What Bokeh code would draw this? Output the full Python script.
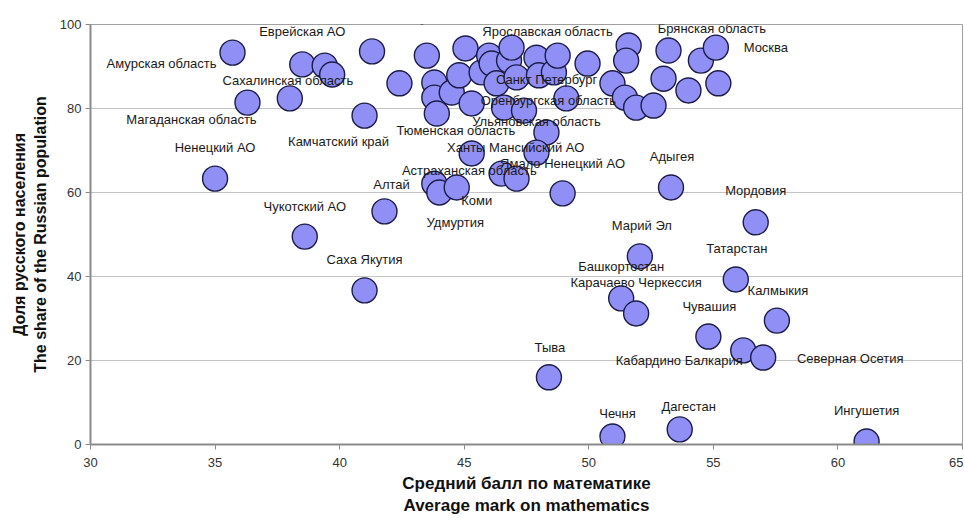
from bokeh.plotting import figure
from bokeh.models import ColumnDataSource, Range1d, FixedTicker
from bokeh.core.properties import value
from bokeh.embed import file_html
from bokeh.resources import INLINE

# ---- data ----
regions = [
    "Ненецкий АО", "Амурская область", "Магаданская область", "Сахалинская область",
    "Еврейская АО", "Чукотский АО", "", "", "", "Камчатский край", "Саха Якутия", "Алтай",
    "", "", "", "", "Тюменская область", "", "", "Тульская область", "", "", "", "", "",
    "", "Ярославская область", "", "Санкт Петербург", "", "", "", "", "",
    "Оренбургская область", "Ульяновская область", "", "", "", "", "Тамбовская область", "",
    "", "", "", "", "Брянская область", "Москва", "",
    "Ханты Мансийский АО", "", "", "Ямало Ненецкий АО", "Астраханская область", "Удмуртия",
    "Коми", "", "Адыгея", "Мордовия", "Марий Эл", "Татарстан", "Башкортостан",
    "Карачаево Черкессия", "Калмыкия", "Чувашия", "Кабардино Балкария", "Северная Осетия",
    "Тыва", "Чечня", "Дагестан", "Ингушетия",
]
math_mark = [
    35.0, 35.7, 36.3, 38.0, 38.5, 38.6, 39.4, 39.7, 41.3, 41.0, 41.0, 41.8,
    42.4, 43.5, 43.8, 43.8, 43.9, 44.5, 44.8, 45.05, 45.3, 45.7, 46.0, 46.1, 46.3,
    46.8, 46.9, 46.6, 47.1, 47.4, 47.9, 48.0, 48.6, 48.75,
    49.1, 48.3, 49.95, 50.95, 51.45, 51.9, 51.6, 51.5,
    52.6, 53.0, 53.2, 54.0, 54.5, 55.1, 55.2,
    45.3, 47.9, 46.5, 47.1, 43.8, 44.0,
    44.7, 48.95, 53.3, 56.7, 52.05, 55.9, 51.3,
    51.9, 57.55, 54.8, 56.2, 57.0,
    48.4, 50.95, 53.65, 61.15,
]
russian_share = [
    63.3, 93.3, 81.4, 82.4, 90.5, 49.5, 90.2, 88.1, 93.6, 78.3, 36.7, 55.5,
    86.0, 92.6, 86.2, 82.6, 78.8, 83.8, 87.9, 94.3, 81.2, 88.6, 92.6, 90.7, 86.0,
    91.4, 94.5, 80.2, 87.4, 79.5, 92.1, 87.9, 88.6, 92.6,
    82.4, 74.3, 90.7, 86.0, 82.6, 80.2, 95.0, 91.4,
    80.7, 87.1, 93.8, 84.3, 91.4, 94.5, 86.0,
    69.3, 69.5, 64.5, 63.3, 62.1, 60.0,
    61.2, 59.8, 61.2, 52.9, 44.8, 39.3, 34.8,
    31.2, 29.5, 25.7, 22.4, 20.7,
    16.0, 1.9, 3.6, 0.7,
]
x_ticks = [30, 35, 40, 45, 50, 55, 60, 65]
y_ticks = [0, 20, 40, 60, 80, 100]

# ---- label placement (screen-pixel offsets from each region's marker) ----
label_offsets = {
    "Амурская область": (-71, 11), "Еврейская АО": (0, -33),
    "Сахалинская область": (-2, -18), "Магаданская область": (-56, 17),
    "Ненецкий АО": (0, -31), "Камчатский край": (-26, 26),
    "Тюменская область": (19, 17), "Тульская область": (1, -31),
    "Ярославская область": (36, -16), "Тамбовская область": (3, -31),
    "Брянская область": (11, -32), "Москва": (50, 0),
    "Санкт Петербург": (30, 2), "Оренбургская область": (-18, 2),
    "Ульяновская область": (-10, -11), "Ханты Мансийский АО": (44, -6),
    "Ямало Ненецкий АО": (46, -15), "Астраханская область": (35, -13),
    "Адыгея": (1, -31), "Алтай": (7, -27), "Коми": (20, 13),
    "Удмуртия": (16, 30), "Чукотский АО": (0, -30), "Саха Якутия": (0, -31),
    "Мордовия": (0, -32), "Марий Эл": (2, -31), "Татарстан": (1, -31),
    "Башкортостан": (0, -32), "Карачаево Черкессия": (0, -31),
    "Калмыкия": (1, -30), "Чувашия": (1, -30), "Тыва": (1, -30),
    "Кабардино Балкария": (-64, 10), "Северная Осетия": (87, 1),
    "Чечня": (5, -23), "Дагестан": (9, -23), "Ингушетия": (0, -31),
}

src = ColumnDataSource(dict(x=math_mark, y=russian_share, name=regions))

lab = dict(x=[], y=[], text=[], dx=[], dy=[])
for n, xv, yv in zip(regions, math_mark, russian_share):
    if n:
        dx, dy = label_offsets.get(n, (0, -30))
        lab["x"].append(xv); lab["y"].append(yv); lab["text"].append(n)
        lab["dx"].append(dx); lab["dy"].append(dy)
lsrc = ColumnDataSource(lab)

p = figure(width=963, height=520, output_backend="svg", toolbar_location=None,
           x_range=Range1d(30, 65), y_range=Range1d(0, 100),
           min_border_left=90, min_border_right=1, min_border_top=24, min_border_bottom=76)

p.background_fill_color = "white"
p.border_fill_color = "white"
p.outline_line_color = "#a0a0a0"
p.outline_line_width = 1

p.xgrid.visible = False
p.ygrid.grid_line_color = "#c4c4c4"
p.ygrid.grid_line_width = 1

for ax in (p.xaxis[0], p.yaxis[0]):
    ax.axis_line_color = "#8a8a8a"
    ax.axis_line_width = 2
    ax.major_tick_line_color = "#8a8a8a"
    ax.major_tick_in = 0
    ax.major_tick_out = 5
    ax.minor_tick_line_color = None
    ax.major_label_text_font = "Liberation Sans"
    ax.major_label_text_font_size = "13px"
    ax.major_label_text_color = "#333333"

p.xaxis.ticker = FixedTicker(ticks=x_ticks)
p.yaxis.ticker = FixedTicker(ticks=y_ticks)
p.xaxis.major_label_standoff = 8
p.yaxis.major_label_standoff = 4

p.xaxis.axis_label = "Средний балл по математике\nAverage mark on mathematics"
p.xaxis.axis_label_text_font = "Liberation Sans"
p.xaxis.axis_label_text_font_style = "bold"
p.xaxis.axis_label_text_font_size = "17px"
p.xaxis.axis_label_text_color = "#111111"
p.xaxis.axis_label_standoff = 4

p.yaxis.axis_label = "Доля русского населения\nThe share of the Russian population"
p.yaxis.axis_label_text_font = "Liberation Sans"
p.yaxis.axis_label_text_font_style = "bold"
p.yaxis.axis_label_text_font_size = "16px"
p.yaxis.axis_label_text_color = "#111111"
p.yaxis.axis_label_standoff = 8

p.scatter("x", "y", source=src, size=25, marker="circle",
          fill_color="#8f8ff5", line_color="#1c1c48", line_width=1.4)

p.text("x", "y", text="text", x_offset="dx", y_offset="dy", source=lsrc,
       text_font=value("Liberation Sans"), text_font_size="13px",
       text_color="#1a1a1a", text_align="center", text_baseline="middle")

open("out.html", "w").write(file_html(p, INLINE))
